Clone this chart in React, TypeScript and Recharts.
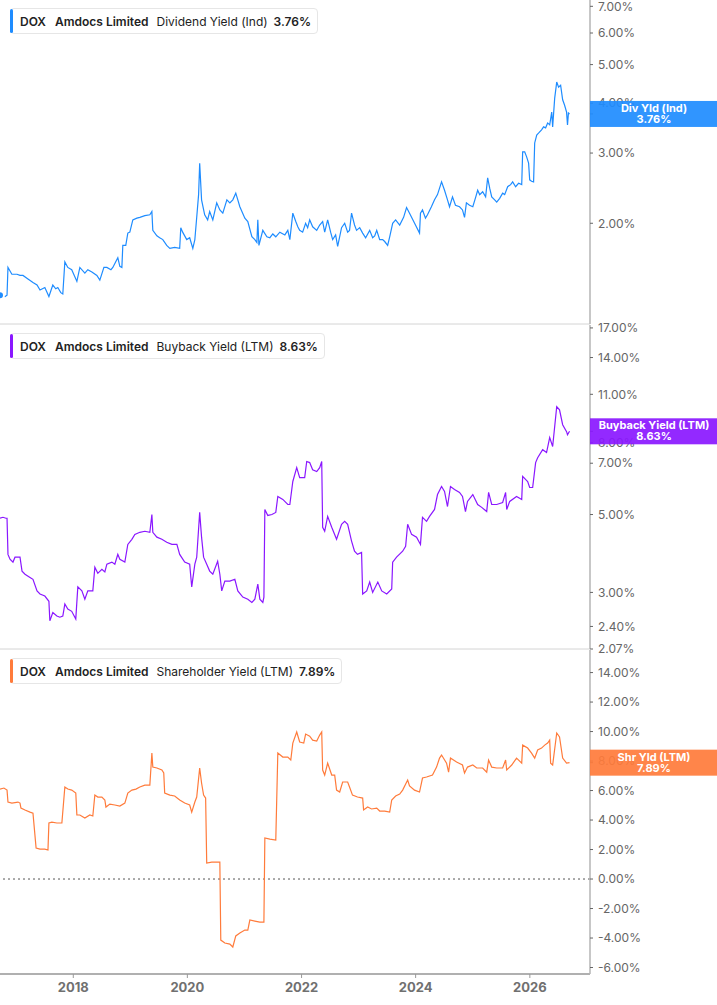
import React from 'react'
import { LineChart, Line, XAxis, YAxis, ReferenceLine } from 'recharts'

// x-axis window and year ticks
const START = '2016-09-19'
const END = '2027-01-21'
const yearTicks = [2018, 2020, 2022, 2024, 2026]

// Dividend Yield (Ind), %
const divDates = [
    '2016-09-19', '2016-10-21', '2016-11-03', '2016-11-09', '2016-12-04', '2017-01-06', '2017-01-25', '2017-02-13', '2017-03-17', '2017-04-18',
    '2017-05-14', '2017-06-02', '2017-07-03', '2017-07-29', '2017-08-23', '2017-09-11', '2017-09-24', '2017-10-13', '2017-10-26', '2017-11-08',
    '2017-11-27', '2017-12-22', '2018-01-24', '2018-02-12', '2018-03-16', '2018-04-04', '2018-04-30', '2018-06-01', '2018-06-20', '2018-07-16',
    '2018-08-04', '2018-08-30', '2018-09-11', '2018-10-13', '2018-10-26', '2018-11-08', '2018-11-14', '2018-12-03', '2018-12-16', '2018-12-29',
    '2019-01-17', '2019-02-12', '2019-03-03', '2019-04-04', '2019-05-06', '2019-05-19', '2019-05-25', '2019-06-20', '2019-07-08', '2019-07-28',
    '2019-08-22', '2019-09-11', '2019-10-12', '2019-11-13', '2019-11-20', '2019-12-02', '2019-12-28', '2020-01-16', '2020-02-05', '2020-02-18',
    '2020-03-01', '2020-03-13', '2020-03-20', '2020-04-01', '2020-04-21', '2020-05-10', '2020-05-23', '2020-06-12', '2020-07-07', '2020-07-27',
    '2020-08-15', '2020-09-10', '2020-09-29', '2020-10-18', '2020-11-06', '2020-11-19', '2020-12-02', '2021-01-03', '2021-01-22', '2021-02-17',
    '2021-03-08', '2021-03-21', '2021-03-27', '2021-04-03', '2021-04-28', '2021-05-24', '2021-06-12', '2021-07-01', '2021-07-20', '2021-08-15',
    '2021-09-16', '2021-10-05', '2021-10-18', '2021-11-06', '2021-11-25', '2021-12-08', '2021-12-20', '2022-01-08', '2022-01-27', '2022-02-09',
    '2022-02-22', '2022-03-13', '2022-04-08', '2022-04-27', '2022-05-16', '2022-05-29', '2022-06-17', '2022-07-06', '2022-07-19', '2022-08-07',
    '2022-08-20', '2022-09-14', '2022-10-04', '2022-10-23', '2022-11-04', '2022-11-17', '2022-12-06', '2022-12-19', '2023-01-08', '2023-01-27',
    '2023-02-15', '2023-03-13', '2023-04-01', '2023-04-14', '2023-04-27', '2023-05-16', '2023-06-04', '2023-06-17', '2023-07-06', '2023-07-19',
    '2023-08-07', '2023-08-26', '2023-09-21', '2023-10-16', '2023-11-04', '2023-11-23', '2023-12-06', '2023-12-31', '2024-01-26', '2024-02-01',
    '2024-02-14', '2024-03-04', '2024-03-17', '2024-04-11', '2024-05-01', '2024-05-20', '2024-06-15', '2024-07-04', '2024-07-23', '2024-08-05',
    '2024-08-24', '2024-09-12', '2024-10-08', '2024-10-27', '2024-11-09', '2024-11-21', '2024-12-11', '2025-01-01', '2025-01-20', '2025-02-01',
    '2025-02-14', '2025-03-05', '2025-03-24', '2025-04-06', '2025-04-19', '2025-05-02', '2025-05-21', '2025-06-03', '2025-06-22', '2025-07-11',
    '2025-07-24', '2025-08-12', '2025-08-31', '2025-09-13', '2025-10-02', '2025-10-21', '2025-11-10', '2025-11-16', '2025-11-29', '2025-12-12',
    '2025-12-24', '2025-12-31', '2026-01-12', '2026-01-25', '2026-02-01', '2026-02-14', '2026-02-27', '2026-03-17', '2026-03-30', '2026-04-12',
    '2026-04-25', '2026-05-08', '2026-05-21', '2026-05-27', '2026-06-09', '2026-06-22', '2026-07-04', '2026-07-17', '2026-07-30', '2026-08-11',
    '2026-08-24', '2026-08-30', '2026-09-05', '2026-09-12',
]
const divValues = [
    1.32, 1.31, 1.32, 1.55, 1.49, 1.49, 1.48, 1.48, 1.45, 1.42,
    1.40, 1.36, 1.38, 1.31, 1.40, 1.37, 1.38, 1.34, 1.33, 1.60,
    1.55, 1.53, 1.43, 1.55, 1.50, 1.53, 1.51, 1.48, 1.44, 1.55,
    1.55, 1.53, 1.55, 1.64, 1.56, 1.55, 1.76, 1.76, 1.89, 1.90,
    2.04, 2.06, 2.07, 2.09, 2.10, 2.14, 1.92, 1.86, 1.84, 1.82,
    1.76, 1.73, 1.74, 1.73, 1.95, 1.90, 1.82, 1.84, 1.73, 1.82,
    2.07, 2.36, 2.83, 2.29, 2.10, 2.04, 2.14, 2.04, 2.25, 2.16,
    2.12, 2.29, 2.25, 2.29, 2.38, 2.29, 2.20, 2.06, 2.02, 1.85,
    1.82, 1.79, 2.04, 1.76, 1.92, 1.85, 1.84, 1.88, 1.85, 1.90,
    1.87, 1.92, 1.82, 2.12, 2.02, 1.96, 1.92, 1.90, 2.00, 1.95,
    2.04, 1.96, 1.92, 1.98, 2.02, 1.90, 2.04, 1.90, 1.82, 1.87,
    1.75, 1.95, 2.00, 1.90, 1.92, 2.12, 1.98, 1.92, 1.95, 1.89,
    1.84, 1.92, 1.84, 1.86, 1.92, 1.82, 1.82, 1.80, 1.76, 1.85,
    2.00, 2.04, 1.98, 2.07, 2.19, 2.12, 2.07, 1.98, 1.89, 2.12,
    2.16, 2.06, 2.10, 2.20, 2.29, 2.36, 2.54, 2.42, 2.29, 2.20,
    2.33, 2.22, 2.20, 2.16, 2.07, 2.25, 2.22, 2.20, 2.33, 2.42,
    2.36, 2.40, 2.33, 2.60, 2.45, 2.33, 2.29, 2.26, 2.31, 2.38,
    2.36, 2.47, 2.50, 2.54, 2.47, 2.52, 2.50, 3.02, 3.02, 2.93,
    2.83, 2.57, 2.55, 2.54, 3.18, 3.33, 3.37, 3.43, 3.49, 3.47,
    3.57, 3.53, 3.80, 3.49, 4.12, 4.52, 4.39, 4.44, 4.08, 3.96,
    3.80, 3.53, 3.78, 3.76,
]

// Buyback Yield (LTM), %
const buyDates = [
    '2016-09-19', '2016-10-08', '2016-10-27', '2016-11-03', '2016-11-09', '2016-11-22', '2016-12-11', '2016-12-24', '2017-01-25', '2017-02-07',
    '2017-02-26', '2017-03-30', '2017-04-18', '2017-05-14', '2017-06-02', '2017-07-03', '2017-07-29', '2017-08-04', '2017-08-23', '2017-09-18',
    '2017-10-07', '2017-10-26', '2017-11-08', '2017-11-27', '2017-12-22', '2018-01-17', '2018-01-30', '2018-02-25', '2018-03-16', '2018-04-04',
    '2018-05-06', '2018-05-19', '2018-06-07', '2018-07-03', '2018-07-22', '2018-08-04', '2018-09-05', '2018-09-24', '2018-10-13', '2018-10-26',
    '2018-11-27', '2018-12-16', '2019-01-11', '2019-01-30', '2019-03-03', '2019-04-04', '2019-05-06', '2019-05-19', '2019-05-25', '2019-06-20',
    '2019-07-22', '2019-08-22', '2019-09-24', '2019-10-26', '2019-11-13', '2019-12-15', '2020-01-16', '2020-01-29', '2020-02-18', '2020-03-01',
    '2020-03-20', '2020-04-01', '2020-04-14', '2020-05-04', '2020-05-23', '2020-06-12', '2020-07-13', '2020-07-27', '2020-08-08', '2020-08-28',
    '2020-09-29', '2020-10-31', '2020-11-19', '2020-12-21', '2021-01-22', '2021-02-17', '2021-03-08', '2021-03-27', '2021-04-09', '2021-04-28',
    '2021-05-05', '2021-05-11', '2021-05-30', '2021-06-25', '2021-07-20', '2021-08-02', '2021-09-03', '2021-10-05', '2021-10-18', '2021-11-06',
    '2021-12-01', '2021-12-20', '2022-01-21', '2022-02-03', '2022-02-22', '2022-03-13', '2022-04-08', '2022-04-27', '2022-05-10', '2022-05-16',
    '2022-05-29', '2022-06-17', '2022-07-13', '2022-08-13', '2022-09-14', '2022-10-04', '2022-10-23', '2022-11-17', '2022-12-06', '2022-12-25',
    '2023-01-20', '2023-01-27', '2023-02-22', '2023-03-13', '2023-04-01', '2023-05-04', '2023-05-29', '2023-06-30', '2023-08-01', '2023-08-07',
    '2023-09-01', '2023-10-10', '2023-10-29', '2023-11-11', '2023-12-06', '2024-01-07', '2024-02-01', '2024-02-14', '2024-03-11', '2024-03-30',
    '2024-05-01', '2024-05-20', '2024-06-15', '2024-07-04', '2024-07-23', '2024-08-11', '2024-09-06', '2024-10-08', '2024-10-27', '2024-11-15',
    '2024-11-28', '2025-01-01', '2025-02-01', '2025-02-27', '2025-03-31', '2025-04-12', '2025-05-02', '2025-06-03', '2025-07-11', '2025-07-30',
    '2025-08-06', '2025-08-25', '2025-10-08', '2025-11-10', '2025-11-16', '2025-12-18', '2025-12-31', '2026-01-19', '2026-02-07', '2026-02-20',
    '2026-03-24', '2026-04-18', '2026-05-08', '2026-05-27', '2026-06-22', '2026-07-10', '2026-07-30', '2026-08-24', '2026-08-30', '2026-09-12',
]
const buyValues = [
    4.88, 4.91, 4.88, 4.88, 3.85, 3.73, 3.66, 3.78, 3.78, 3.45,
    3.38, 3.31, 3.27, 3.03, 2.97, 2.93, 2.83, 2.49, 2.63, 2.57,
    2.55, 2.57, 2.78, 2.69, 2.65, 2.52, 3.11, 3.03, 2.87, 3.03,
    3.03, 3.54, 3.40, 3.49, 3.43, 3.61, 3.66, 3.61, 3.85, 3.73,
    3.66, 4.11, 4.25, 4.39, 4.45, 4.48, 4.45, 5.00, 4.45, 4.31,
    4.25, 4.17, 4.11, 4.11, 3.85, 3.66, 3.61, 3.11, 3.61, 3.78,
    5.07, 4.31, 3.78, 3.61, 3.45, 3.38, 3.68, 3.38, 3.03, 3.23,
    3.23, 3.27, 3.03, 2.91, 2.87, 2.81, 2.87, 3.17, 2.87, 2.81,
    2.91, 5.17, 4.97, 5.00, 5.07, 5.63, 5.52, 5.34, 5.34, 6.21,
    6.80, 6.37, 6.37, 7.08, 7.03, 6.71, 6.63, 6.80, 7.08, 4.60,
    4.48, 4.94, 4.60, 4.25, 4.69, 4.78, 4.69, 4.20, 3.93, 3.85,
    3.90, 2.97, 3.03, 3.21, 3.00, 3.21, 3.03, 2.97, 3.07, 3.66,
    3.78, 3.93, 4.06, 4.69, 4.39, 4.31, 4.11, 4.91, 4.78, 4.94,
    5.17, 5.70, 6.01, 5.82, 5.27, 6.01, 5.89, 5.78, 5.63, 5.10,
    5.45, 5.70, 5.34, 5.24, 5.10, 5.78, 5.34, 5.34, 5.41, 5.78,
    5.17, 5.45, 5.63, 5.52, 6.42, 6.21, 5.97, 5.97, 7.03, 7.26,
    7.65, 7.51, 8.28, 7.81, 10.14, 9.94, 9.01, 8.61, 8.44, 8.63,
]

// Shareholder Yield (LTM), %
const shrDates = [
    '2016-09-19', '2016-10-14', '2016-11-03', '2016-11-09', '2016-12-04', '2017-01-12', '2017-01-25', '2017-01-31', '2017-02-26', '2017-03-30',
    '2017-04-18', '2017-05-08', '2017-06-02', '2017-07-03', '2017-07-23', '2017-07-29', '2017-08-17', '2017-09-18', '2017-10-20', '2017-11-08',
    '2017-11-27', '2017-12-22', '2018-01-17', '2018-01-24', '2018-02-12', '2018-03-16', '2018-04-17', '2018-05-06', '2018-05-19', '2018-06-07',
    '2018-07-03', '2018-07-22', '2018-07-29', '2018-08-23', '2018-09-24', '2018-10-26', '2018-11-27', '2018-12-16', '2019-01-11', '2019-02-06',
    '2019-03-03', '2019-04-04', '2019-05-06', '2019-05-19', '2019-05-25', '2019-06-20', '2019-07-22', '2019-08-03', '2019-08-09', '2019-09-11',
    '2019-10-12', '2019-11-13', '2019-12-15', '2020-01-16', '2020-01-29', '2020-02-18', '2020-03-01', '2020-03-20', '2020-04-01', '2020-04-14',
    '2020-04-27', '2020-05-04', '2020-06-05', '2020-07-13', '2020-07-27', '2020-08-02', '2020-08-28', '2020-09-29', '2020-10-18', '2020-11-06',
    '2020-12-02', '2021-01-03', '2021-01-22', '2021-02-04', '2021-03-08', '2021-04-09', '2021-05-05', '2021-05-11', '2021-06-12', '2021-07-20',
    '2021-08-02', '2021-09-03', '2021-10-05', '2021-10-24', '2021-11-06', '2021-12-01', '2021-12-20', '2022-01-15', '2022-01-27', '2022-02-22',
    '2022-03-13', '2022-04-08', '2022-04-27', '2022-05-10', '2022-05-16', '2022-05-29', '2022-06-17', '2022-07-13', '2022-08-01', '2022-08-13',
    '2022-09-02', '2022-09-21', '2022-10-23', '2022-11-04', '2022-11-23', '2022-12-25', '2023-01-27', '2023-02-02', '2023-02-28', '2023-03-25',
    '2023-04-27', '2023-05-16', '2023-06-17', '2023-07-19', '2023-08-01', '2023-08-26', '2023-09-21', '2023-10-10', '2023-11-11', '2023-11-23',
    '2023-12-25', '2024-01-26', '2024-02-14', '2024-03-11', '2024-04-18', '2024-05-14', '2024-06-02', '2024-06-15', '2024-07-17', '2024-07-30',
    '2024-08-11', '2024-09-19', '2024-10-27', '2024-11-09', '2024-11-28', '2025-01-01', '2025-01-26', '2025-03-05', '2025-03-31', '2025-04-12',
    '2025-05-02', '2025-06-03', '2025-07-11', '2025-07-30', '2025-08-06', '2025-09-07', '2025-10-08', '2025-11-10', '2025-11-16', '2025-12-18',
    '2026-01-12', '2026-02-01', '2026-02-20', '2026-03-17', '2026-04-06', '2026-04-25', '2026-05-08', '2026-05-14', '2026-05-27', '2026-06-22',
    '2026-07-10', '2026-07-30', '2026-08-24', '2026-09-12',
]
const shrValues = [
    6.10, 6.17, 6.03, 5.22, 5.15, 5.22, 5.15, 4.81, 4.68, 4.54,
    4.47, 2.10, 2.03, 2.03, 1.97, 3.80, 3.86, 3.80, 3.80, 6.24,
    6.10, 6.03, 5.83, 4.34, 4.34, 4.14, 4.34, 4.27, 5.69, 5.56,
    5.56, 5.36, 4.88, 5.08, 5.02, 4.95, 5.15, 5.83, 6.03, 6.10,
    6.24, 6.37, 6.37, 8.54, 7.59, 7.53, 7.39, 7.19, 5.83, 5.69,
    5.63, 5.36, 5.15, 5.02, 4.54, 5.22, 5.56, 7.53, 6.51, 5.69,
    5.49, 1.08, 1.15, 1.15, 1.15, -4.14, -4.34, -4.41, -4.61, -3.86,
    -3.66, -3.46, -3.46, -2.78, -2.85, -2.92, -2.92, 2.78, 2.71, 2.64,
    8.54, 8.27, 8.27, 8.07, 9.22, 9.97, 9.29, 9.22, 9.83, 9.69,
    9.42, 9.36, 9.76, 9.97, 7.39, 7.05, 7.86, 7.05, 7.05, 6.03,
    5.90, 6.58, 6.58, 6.24, 5.69, 5.56, 5.49, 4.68, 4.88, 4.75,
    4.81, 4.61, 4.61, 4.54, 5.36, 5.63, 5.76, 6.03, 6.71, 6.31,
    6.03, 5.90, 6.85, 6.92, 7.05, 7.59, 8.20, 8.41, 7.86, 7.25,
    8.20, 7.93, 7.73, 7.19, 7.59, 7.73, 7.53, 7.53, 7.25, 8.07,
    7.59, 7.53, 7.53, 8.07, 7.39, 7.73, 8.20, 7.86, 9.08, 8.88,
    8.54, 8.20, 8.75, 8.88, 9.08, 9.22, 9.42, 7.86, 7.73, 9.90,
    9.63, 8.20, 7.86, 7.89,
]

const divTicks = [2, 3, 4, 5, 6, 7]
const buyTicks = [2.07, 2.4, 3, 5, 7, 8, 11, 14, 17]
const shrTicks = [-6, -4, -2, 0, 2, 4, 6, 8, 10, 12, 14]

const toRows = (dates: string[], values: number[]) =>
    dates.map((d, i) => ({ t: Date.parse(d), v: values[i] }))

const T0 = Date.parse(START)
const T1 = Date.parse(END)
const fmtPct = (v: number) => `${v.toFixed(2)}%`

const TICK_SIZE = 3
const TICK_GAP = 5

// y tick label; the last entry of the ticks list is the "current value" badge,
// drawn last so it sits on top of the other labels
function YTick(props: any) {
    const { x, y, payload, index, count, color, title } = props
    if (index === count - 1) {
        const ax = x - TICK_SIZE - TICK_GAP
        return (
            <g>
                <rect x={ax} y={y - 13} width={127} height={26} fill={color} fillOpacity={0.92} />
                <text x={ax + 64} y={y - 2} textAnchor="middle" fill="#fff" fontSize={11} fontWeight={700} fontFamily="Inter">
                    {title}
                </text>
                <text x={ax + 64} y={y + 9} textAnchor="middle" fill="#fff" fontSize={11} fontWeight={700} fontFamily="Inter">
                    {fmtPct(payload.value)}
                </text>
            </g>
        )
    }
    return (
        <text x={x} y={y} dy="0.355em" textAnchor="start" fill="#666" fontSize={12} fontFamily="Inter">
            {fmtPct(payload.value)}
        </text>
    )
}

function Legend({ color, metric, value }: { color: string; metric: string; value: number }) {
    return (
        <div
            style={{
                position: 'absolute', left: 10, top: 8, height: 24, display: 'flex', alignItems: 'center',
                border: '1px solid #e6e6e6', borderRadius: 4, background: '#fff', paddingRight: 6,
                fontFamily: 'Inter', fontSize: 12, color: '#222', whiteSpace: 'nowrap', zIndex: 2,
            }}
        >
            <div style={{ width: 3, alignSelf: 'stretch', background: color, borderRadius: 2, marginLeft: -1, marginRight: 7 }} />
            <span style={{ fontWeight: 600 }}>DOX</span>
            <span style={{ fontWeight: 600, marginLeft: 9 }}>Amdocs Limited</span>
            <span style={{ marginLeft: 8 }}>{metric}</span>
            <span style={{ fontWeight: 600, marginLeft: 6 }}>{value.toFixed(2)}%</span>
        </div>
    )
}

interface PanelProps {
    rows: { t: number; v: number }[]
    color: string
    metric: string
    badge: string
    last: number
    ticks: number[]
    domain: [number, number]
    log?: boolean
    bottom?: boolean
    zero?: boolean
}

function Panel({ rows, color, metric, badge, last, ticks, domain, log, bottom, zero }: PanelProps) {
    const height = bottom ? 355 : 325
    const allTicks = [...ticks, last]
    return (
        <div style={{ position: 'relative', width: 717, height }}>
            <Legend color={color} metric={metric} value={last} />
            <LineChart width={717} height={height} data={rows} margin={{ top: 0, right: 0, bottom: 0, left: 0 }}>
                {bottom ? (
                    <XAxis
                        type="number"
                        dataKey="t"
                        domain={[T0, T1]}
                        allowDataOverflow
                        ticks={yearTicks.map((y) => Date.UTC(y, 0, 1))}
                        tickFormatter={(t: number) => String(new Date(t).getUTCFullYear())}
                        height={31}
                        tickSize={4}
                        tickMargin={5}
                        axisLine={{ stroke: '#b0b0b0', strokeWidth: 2 }}
                        tickLine={{ stroke: '#999' }}
                        tick={{ fill: '#707070', fontSize: 13, fontWeight: 700, fontFamily: 'Inter' }}
                    />
                ) : (
                    <XAxis
                        type="number"
                        dataKey="t"
                        domain={[T0, T1]}
                        allowDataOverflow
                        height={1}
                        tick={false}
                        tickLine={false}
                        axisLine={{ stroke: '#d4d4d4' }}
                    />
                )}
                <YAxis
                    orientation="right"
                    type="number"
                    width={127}
                    scale={log ? 'log' : 'linear'}
                    domain={domain}
                    allowDataOverflow
                    ticks={allTicks}
                    interval={0}
                    tickSize={TICK_SIZE}
                    tickMargin={TICK_GAP}
                    axisLine={{ stroke: '#b4b4b4', strokeWidth: 1.5 }}
                    tickLine={{ stroke: '#666' }}
                    tick={(p: any) => <YTick {...p} count={allTicks.length} color={color} title={badge} />}
                />
                {zero && <ReferenceLine y={0} stroke="#555" strokeDasharray="2 3" />}
                <Line
                    type="linear"
                    dataKey="v"
                    stroke={color}
                    strokeWidth={1.2}
                    dot={false}
                    isAnimationActive={false}
                />
            </LineChart>
        </div>
    )
}

export default function App() {
    const div = toRows(divDates, divValues)
    const buy = toRows(buyDates, buyValues)
    const shr = toRows(shrDates, shrValues)
    return (
        <div style={{ position: 'absolute', left: 0, top: 0, width: 717, height: 1005, background: '#fff' }}>
            <style>{'svg { overflow: visible; }'}</style>
            <Panel
                rows={div}
                color="#1e8cff"
                metric="Dividend Yield (Ind)"
                badge="Div Yld (Ind)"
                last={divValues[divValues.length - 1]}
                ticks={divTicks}
                domain={[1.118, 7.26]}
                log
            />
            <Panel
                rows={buy}
                color="#8a17ff"
                metric="Buyback Yield (LTM)"
                badge="Buyback Yield (LTM)"
                last={buyValues[buyValues.length - 1]}
                ticks={buyTicks}
                domain={[2.07, 17.33]}
                log
            />
            <Panel
                rows={shr}
                color="#ff7b3b"
                metric="Shareholder Yield (LTM)"
                badge="Shr Yld (LTM)"
                last={shrValues[shrValues.length - 1]}
                ticks={shrTicks}
                domain={[-6.44, 15.53]}
                bottom
                zero
            />
        </div>
    )
}
